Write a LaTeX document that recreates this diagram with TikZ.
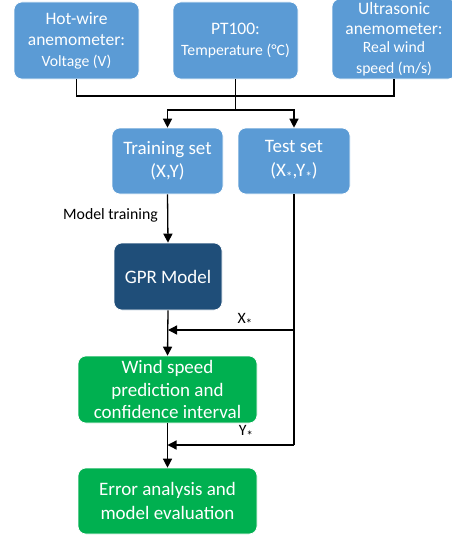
\documentclass[tikz,border=0pt]{standalone}
\usepackage{fontspec}
\setmainfont{Carlito}
\usetikzlibrary{arrows.meta}
\definecolor{lblue}{HTML}{5B9BD5}
\definecolor{dblue}{HTML}{1F4E79}
\definecolor{grn}{HTML}{00B050}
\newcommand{\myast}{\raisebox{-0.6ex}{\fontsize{13.5}{13.5}\selectfont *}}
\newcommand{\sm}{\fontsize{15.7}{20}\selectfont}
\begin{document}
\begin{tikzpicture}[x=1pt,y=-1pt,
  box/.style={rounded corners=8pt, text=white, align=center, inner sep=0pt, draw=white, line width=0.6pt},
  lb/.style={box, fill=lblue},
  db/.style={box, fill=dblue},
  gb/.style={box, fill=grn},
  big/.style={font=\fontsize{19}{23.5}\selectfont},
  mid/.style={font=\fontsize{17.5}{21.5}\selectfont},
  conn/.style={line width=1.3pt},
  arr/.style={conn, -{Triangle[length=9pt,width=9pt]}},
  lbl/.style={font=\fontsize{15.8}{18}\selectfont, inner sep=0pt}
]
\useasboundingbox (0,0) rectangle (452,535);
\node[lb, mid, minimum width=125, minimum height=77] (hw) at (76.5,40.5)
  {Hot-wire\\anemometer:\\[-1pt]{\sm Voltage (V)}};
\node[lb, mid, minimum width=125, minimum height=77] (pt) at (235.5,40.5)
  {PT100:\\{\sm Temperature (°C)}};
\node[lb, mid, minimum width=124, minimum height=80] (us) at (394,39)
  {Ultrasonic\\[-1.5pt]anemometer:\\[-3pt]{\sm Real wind}\\[-1pt]{\sm speed (m/s)}};
\node[lb, big, minimum width=111, minimum height=66] (train) at (167.5,161) {Training set\\(X,Y)};
\node[lb, big, minimum width=112, minimum height=66] (test) at (294,161) {Test set\\(X\myast,Y\myast)};
\node[db, big, minimum width=108, minimum height=67] (gpr) at (168,276.5) {GPR Model};
\node[gb, big, minimum width=179, minimum height=67] (wind) at (167.5,389.5) {Wind speed\\[-1pt]prediction and\\[-1pt]confidence interval};
\node[gb, big, minimum width=179, minimum height=66] (err) at (167.5,501) {Error analysis and\\model evaluation};

\coordinate (j1) at (pt.south |- {(0,96)});
\coordinate (j2) at (pt.south |- {(0,110)});
\draw[conn] (hw.south) |- (j1);
\draw[conn] (us.south) |- (j1);
\draw[conn] (pt.south) -- (j2);
\draw[arr] (j2) -| (train.north);
\draw[arr] (j2) -| (test.north);
\draw[arr] (train.south) -- (gpr.north);
\node[lbl] (mt) at (110.5,215) {Model training};
\coordinate (xj) at (test.south |- {(0,330)});
\coordinate (yj) at (test.south |- {(0,445)});
\draw[conn] (test.south) -- (yj);
\draw[arr] (gpr.south) -- (wind.north);
\draw[arr] (wind.south) -- (err.north);
\draw[arr] (xj) -- (gpr.south |- xj);
\draw[arr] (yj) -- (wind.south |- yj);
\node[lbl] (xl) at (245,321) {X\myast};
\node[lbl] (yl) at (246,433) {Y\myast};
\end{tikzpicture}
\end{document}
